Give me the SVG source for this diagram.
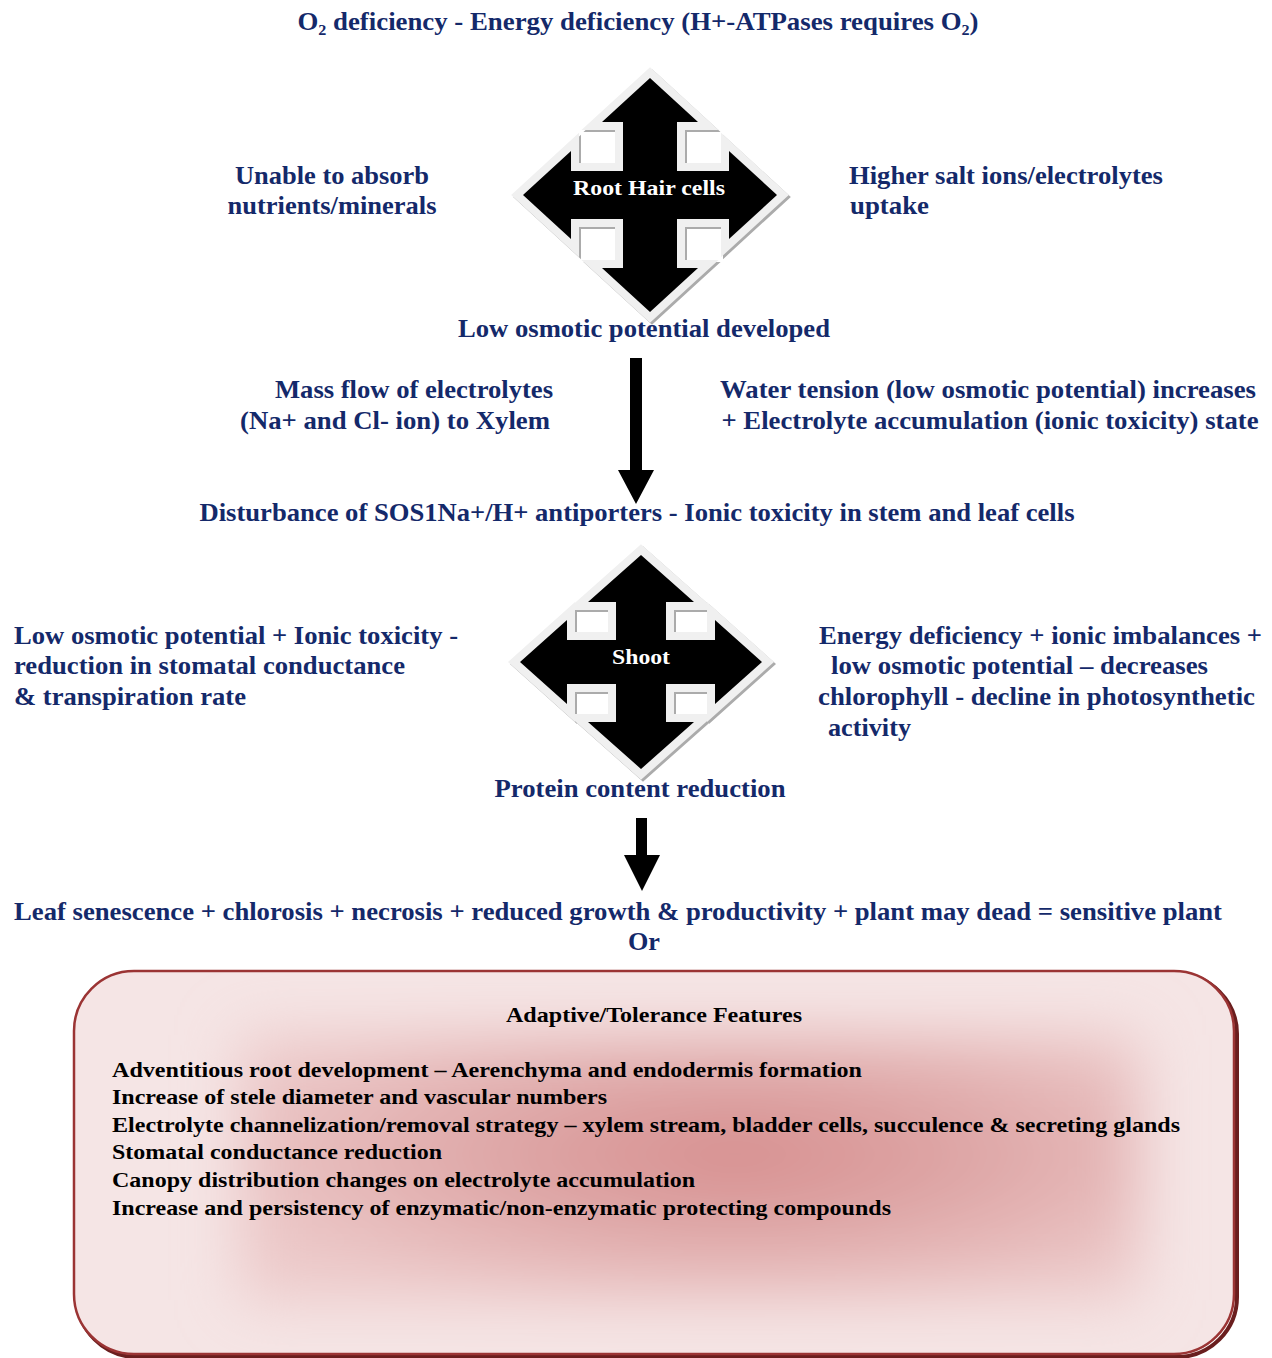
<svg xmlns="http://www.w3.org/2000/svg" xmlns:xlink="http://www.w3.org/1999/xlink" width="1272" height="1358" viewBox="0 0 1272 1358">
<style>
.t{font-family:"Liberation Serif","Times New Roman",serif;font-weight:bold;font-size:25px;fill:#14296a}
.c{text-anchor:middle}
.w{font-family:"Liberation Serif","Times New Roman",serif;font-weight:bold;font-size:22px;fill:#ffffff;text-anchor:middle}
.b{font-family:"Liberation Serif","Times New Roman",serif;font-weight:bold;font-size:22px;fill:#000000}
.sh{fill:#ababab;stroke:#ababab;stroke-width:16;stroke-linejoin:miter}
.ol{fill:#f0f0f0;stroke:#f0f0f0;stroke-width:16;stroke-linejoin:miter}
.bk{fill:#000000;stroke:none}
.arr{fill:#000000}
</style>
<defs>
<polygon id="cross1" points="650,78 698,122 677,122 677,171 729,171 729,151 777,195 729,239 729,219 677,219 677,268 698,268 650,312 602,268 623,268 623,219 571,219 571,239 523,195 571,151 571,171 623,171 623,122 602,122"/>
<polygon id="cross2" points="641,555 694,602 666,602 666,640 715,640 715,620 762,662 715,704 715,684 666,684 666,722 694,722 641,769 588,722 616,722 616,684 567,684 567,704 520,662 567,620 567,640 616,640 616,602 588,602"/>
<radialGradient id="blob" cx="0.55" cy="0.45" r="0.6">
<stop offset="0" stop-color="#d68d8d"/>
<stop offset="0.45" stop-color="#dea6a6"/>
<stop offset="1" stop-color="#ecc9c9"/>
</radialGradient>
<filter id="blur" x="-20%" y="-30%" width="140%" height="160%"><feGaussianBlur stdDeviation="30"/></filter>
<clipPath id="boxclip"><rect x="74" y="971" width="1160" height="383" rx="60" ry="60"/></clipPath>
</defs>

<g id="connectors">
<polygon class="arr" points="630,358 642,358 642,470 654,470 636,504 618,470 630,470"/>
<polygon class="arr" points="636,818 647,818 647,855 660,855 642,891 624,855 636,855"/>
</g>

<text class="t c" x="638" y="30" textLength="681" lengthAdjust="spacingAndGlyphs">O₂ deficiency - Energy deficiency (H+-ATPases requires O₂)</text>

<g id="root-hair-cells">
<use xlink:href="#cross1" class="sh" transform="translate(2,2)"/>
<use xlink:href="#cross1" class="ol"/>
<use xlink:href="#cross1" class="bk"/>
<text class="w" x="649" y="195" textLength="152" lengthAdjust="spacingAndGlyphs">Root Hair cells</text>
</g>

<g id="unable-absorb">
<text class="t c" x="332" y="184" textLength="194" lengthAdjust="spacingAndGlyphs">Unable to absorb</text>
<text class="t c" x="332" y="214" textLength="209" lengthAdjust="spacingAndGlyphs">nutrients/minerals</text>
</g>
<g id="higher-salt">
<text class="t" x="849" y="184" textLength="314" lengthAdjust="spacingAndGlyphs">Higher salt ions/electrolytes</text>
<text class="t" x="850" y="214" textLength="79" lengthAdjust="spacingAndGlyphs">uptake</text>
</g>
<g id="low-osmotic">
<text class="t c" x="644" y="337" textLength="372" lengthAdjust="spacingAndGlyphs">Low osmotic potential developed</text>
</g>
<g id="mass-flow">
<text class="t c" x="414" y="398" textLength="278" lengthAdjust="spacingAndGlyphs">Mass flow of electrolytes</text>
<text class="t c" x="395" y="429" textLength="310" lengthAdjust="spacingAndGlyphs">(Na+ and Cl- ion) to Xylem</text>
</g>
<g id="water-tension">
<text class="t c" x="988" y="398" textLength="536" lengthAdjust="spacingAndGlyphs">Water tension (low osmotic potential) increases</text>
<text class="t c" x="990" y="429" textLength="537" lengthAdjust="spacingAndGlyphs">+ Electrolyte accumulation (ionic toxicity) state</text>
</g>
<g id="disturbance">
<text class="t c" x="637" y="521" textLength="875" lengthAdjust="spacingAndGlyphs">Disturbance of SOS1Na+/H+ antiporters - Ionic toxicity in stem and leaf cells</text>
</g>

<g id="shoot">
<use xlink:href="#cross2" class="sh" transform="translate(2,2)"/>
<use xlink:href="#cross2" class="ol"/>
<use xlink:href="#cross2" class="bk"/>
<text class="w" x="641" y="664" textLength="58" lengthAdjust="spacingAndGlyphs">Shoot</text>
</g>

<g id="left-shoot">
<text class="t" x="14" y="644" textLength="444" lengthAdjust="spacingAndGlyphs">Low osmotic potential + Ionic toxicity -</text>
<text class="t" x="14" y="674" textLength="391" lengthAdjust="spacingAndGlyphs">reduction in stomatal conductance</text>
<text class="t" x="14" y="705" textLength="232" lengthAdjust="spacingAndGlyphs">&amp; transpiration rate</text>
</g>
<g id="right-shoot">
<text class="t" x="819" y="644" textLength="443" lengthAdjust="spacingAndGlyphs">Energy deficiency + ionic imbalances +</text>
<text class="t" x="831" y="674" textLength="377" lengthAdjust="spacingAndGlyphs">low osmotic potential – decreases</text>
<text class="t" x="818" y="705" textLength="437" lengthAdjust="spacingAndGlyphs">chlorophyll - decline in photosynthetic</text>
<text class="t" x="828" y="736" textLength="83" lengthAdjust="spacingAndGlyphs">activity</text>
</g>
<g id="protein">
<text class="t c" x="640" y="797" textLength="291" lengthAdjust="spacingAndGlyphs">Protein content reduction</text>
</g>
<g id="leaf-senescence">
<text class="t" x="14" y="920" textLength="1208" lengthAdjust="spacingAndGlyphs">Leaf senescence + chlorosis + necrosis + reduced growth &amp; productivity + plant may dead = sensitive plant</text>
<text class="t c" x="644" y="950" textLength="32" lengthAdjust="spacingAndGlyphs">Or</text>
</g>

<g id="adaptive-box">
<rect x="77" y="974" width="1160" height="383" rx="60" ry="60" fill="none" stroke="#6a1e1e" stroke-width="4"/>
<rect x="74" y="971" width="1160" height="383" rx="60" ry="60" fill="#f5e5e5"/>
<g clip-path="url(#boxclip)">
<rect x="240" y="1035" width="900" height="265" fill="url(#blob)" filter="url(#blur)"/>
</g>
<rect x="74" y="971" width="1160" height="383" rx="60" ry="60" fill="none" stroke="#9b3434" stroke-width="2.5"/>
<text class="b c" x="654" y="1022" textLength="296" lengthAdjust="spacingAndGlyphs">Adaptive/Tolerance Features</text>
<text class="b" x="112" y="1077" textLength="750" lengthAdjust="spacingAndGlyphs">Adventitious root development – Aerenchyma and endodermis formation</text>
<text class="b" x="112" y="1104" textLength="495" lengthAdjust="spacingAndGlyphs">Increase of stele diameter and vascular numbers</text>
<text class="b" x="112" y="1132" textLength="1068" lengthAdjust="spacingAndGlyphs">Electrolyte channelization/removal strategy – xylem stream, bladder cells, succulence &amp; secreting glands</text>
<text class="b" x="112" y="1159" textLength="330" lengthAdjust="spacingAndGlyphs">Stomatal conductance reduction</text>
<text class="b" x="112" y="1187" textLength="583" lengthAdjust="spacingAndGlyphs">Canopy distribution changes on electrolyte accumulation</text>
<text class="b" x="112" y="1215" textLength="779" lengthAdjust="spacingAndGlyphs">Increase and persistency of enzymatic/non-enzymatic protecting compounds</text>
</g>
</svg>
